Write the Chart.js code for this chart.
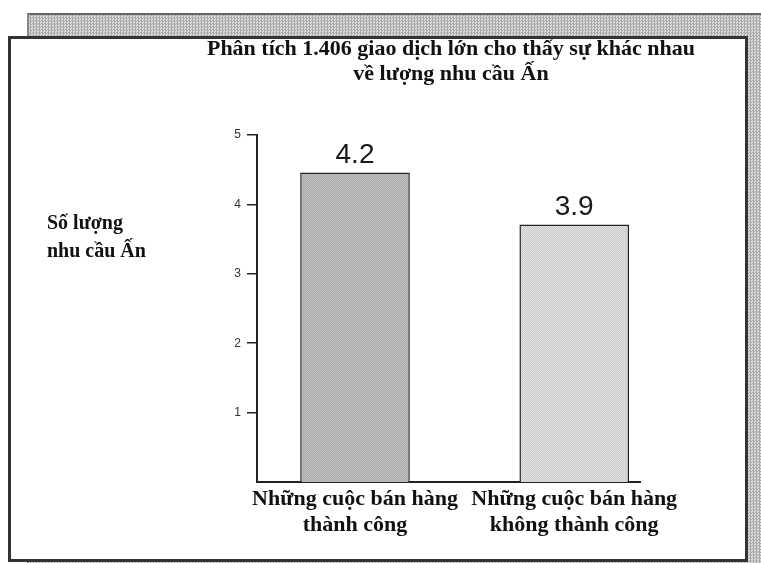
<!DOCTYPE html>
<html>
<head>
<meta charset="utf-8">
<script src="https://cdn.jsdelivr.net/npm/chart.js@4.4.0/dist/chart.umd.min.js"></script>
<style>
  html, body { margin: 0; padding: 0; background: #fff; }
  #stage { position: relative; width: 761px; height: 563px; overflow: hidden; }
  #shadow {
    position: absolute; left: 27px; top: 13px; width: 740px; height: 560px;
    border-top: 2px solid #666;
    border-left: 2px solid #888;
    background: repeating-conic-gradient(#a9a9a9 0 25%, #dcdcdc 0 50%) 0 0 / 3px 3px;
  }
  #card {
    position: absolute; left: 8px; top: 36px; width: 734px; height: 520px;
    border: 3px solid #333; background: #fff;
  }
  #chart { position: absolute; left: 0; top: 0; }
</style>
</head>
<body>
<div id="stage">
  <div id="shadow"></div>
  <div id="card"></div>
  <canvas id="chart" width="761" height="563"></canvas>
</div>
<script>
// Chart data
const categories = [
  ["Những cuộc bán hàng", "thành công"],
  ["Những cuộc bán hàng", "không thành công"],
];
// bar heights as drawn against the axis in the picture
const barHeights = [4.46, 3.71];
// values printed above the bars
const printedValues = ["4.2", "3.9"];
const yTicks = [1, 2, 3, 4, 5];
const titleLines = [
  "Phân tích 1.406 giao dịch lớn cho thấy sự khác nhau",
  "về lượng nhu cầu Ấn",
];
const yLabelLines = ["Số lượng", "nhu cầu Ấn"];

// small stipple pattern like the scanned screen tone
function stipple(a, b) {
  const c = document.createElement("canvas");
  c.width = 2;
  c.height = 2;
  const g = c.getContext("2d");
  g.fillStyle = a;
  g.fillRect(0, 0, 2, 2);
  g.fillStyle = b;
  g.fillRect(0, 0, 1, 1);
  g.fillRect(1, 1, 1, 1);
  return g.createPattern(c, "repeat");
}

// Title, side label and value labels
const textPlugin = {
  id: "texts",
  afterDatasetsDraw(chart) {
    const ctx = chart.ctx;
    ctx.save();
    ctx.fillStyle = "#1a1a1a";
    ctx.font = "28px 'Liberation Sans', Arial, sans-serif";
    ctx.textAlign = "center";
    ctx.textBaseline = "bottom";
    chart.getDatasetMeta(0).data.forEach(function (bar, i) {
      ctx.fillText(printedValues[i], bar.x, bar.y - 3);
    });
    ctx.restore();
  },
  afterDraw(chart) {
    const ctx = chart.ctx;
    ctx.save();
    ctx.fillStyle = "#111";
    ctx.textBaseline = "middle";
    ctx.font = "bold 22px 'Liberation Serif', 'Times New Roman', serif";
    ctx.textAlign = "center";
    titleLines.forEach(function (line, i) {
      ctx.fillText(line, 451, 49 + i * 25);
    });
    ctx.font = "bold 20px 'Liberation Serif', 'Times New Roman', serif";
    ctx.textAlign = "left";
    yLabelLines.forEach(function (line, i) {
      ctx.fillText(line, 47, 224 + i * 28);
    });
    ctx.restore();
  },
};

const chart = new Chart(document.getElementById("chart"), {
  type: "bar",
  data: {
    datasets: [
      {
        data: barHeights.map(function (v, i) {
          return { x: i, y: v };
        }),
        backgroundColor: [stipple("#a6a6a6", "#c6c6c6"), stipple("#c8c8c8", "#e4e4e4")],
        borderColor: "#222",
        borderWidth: 1.5,
        borderSkipped: "bottom",
        barPercentage: 0.5,
        categoryPercentage: 1,
      },
    ],
  },
  options: {
    responsive: false,
    animation: false,
    layout: {
      padding: { left: 217, right: 121, top: 135, bottom: 11 },
    },
    plugins: {
      legend: { display: false },
      tooltip: { enabled: false },
    },
    scales: {
      x: {
        type: "linear",
        min: -0.447,
        max: 1.3,
        bounds: "data",
        offset: false,
        afterBuildTicks: function (scale) {
          scale.ticks = categories.map(function (c, i) {
            return { value: i };
          });
        },
        afterFit: function (scale) {
          scale.height = 70;
        },
        grid: { display: false, drawTicks: false, offset: false },
        border: { display: true, color: "#222", width: 2 },
        ticks: {
          padding: 4,
          maxRotation: 0,
          autoSkip: false,
          color: "#111",
          font: { family: "'Liberation Serif', 'Times New Roman', serif", size: 22, weight: "bold", lineHeight: 1.2 },
          callback: function (value) {
            return categories[value];
          },
        },
      },
      y: {
        min: 0,
        max: 5,
        afterBuildTicks: function (scale) {
          scale.ticks = yTicks.map(function (v) {
            return { value: v };
          });
        },
        afterFit: function (scale) {
          scale.width = 40;
        },
        grid: {
          drawOnChartArea: false,
          drawTicks: true,
          tickLength: 10,
          color: "#222",
          lineWidth: 1.5,
        },
        border: { display: true, color: "#222", width: 2 },
        ticks: {
          padding: 6,
          color: "#333",
          font: { family: "'Liberation Sans', Arial, sans-serif", size: 12 },
        },
      },
    },
  },
  plugins: [textPlugin],
});
</script>
</body>
</html>
